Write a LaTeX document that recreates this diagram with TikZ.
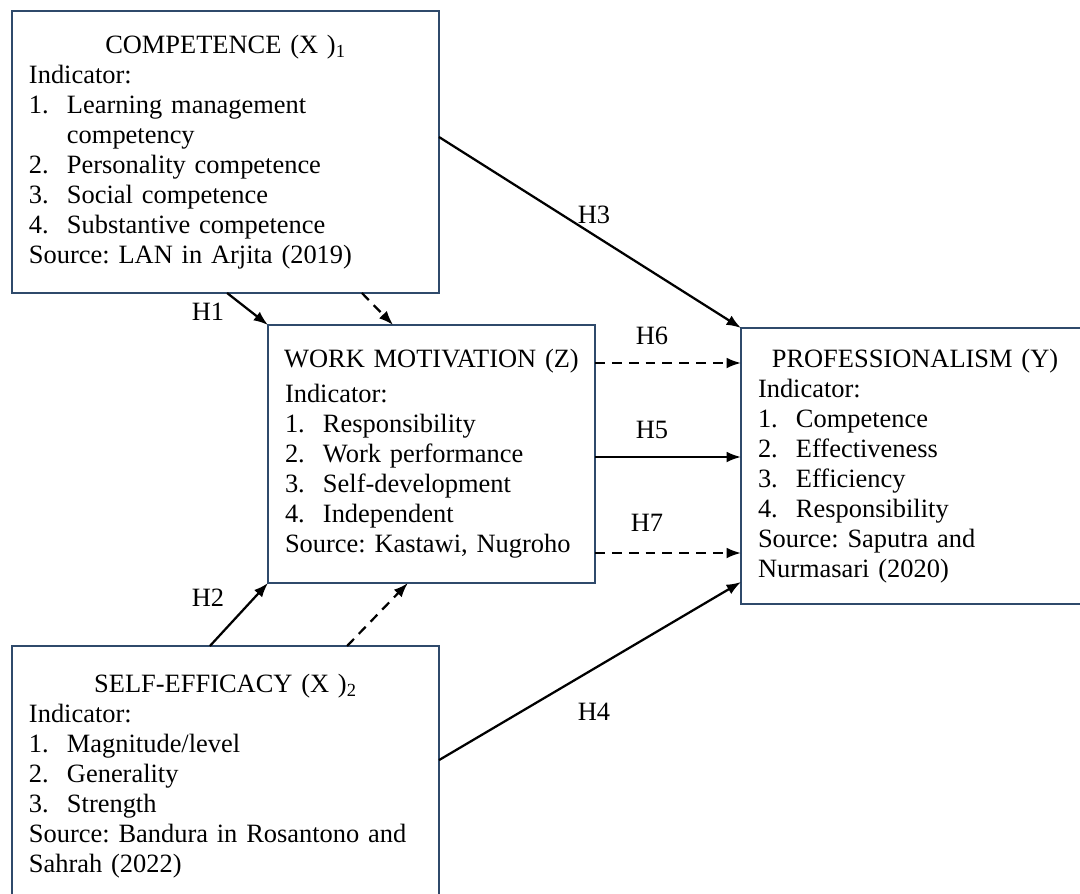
\documentclass[tikz,border=0pt]{standalone}
\usepackage{fontspec}
\setmainfont{LiberationSerif}[Extension=.ttf,UprightFont=*-Regular,BoldFont=*-Bold,ItalicFont=*-Italic]
\usetikzlibrary{positioning}
\usetikzlibrary{arrows.meta}
\definecolor{boxblue}{HTML}{2F4A6B}
\newcommand{\itm}[2]{\makebox[0.95cm][l]{#1}#2}
\newcommand{\boxtitle}[1]{\makebox[\linewidth]{#1}}
\frenchspacing

\begin{document}
\begin{tikzpicture}[x=0.25mm,y=-0.25mm,>={Latex[length=0.36cm,width=0.27cm]},
	font=\fontsize{18.8pt}{0.75cm}\selectfont,
	box/.style={draw=boxblue,line width=1.7pt,inner xsep=0.425cm,inner ysep=0pt,align=left,outer sep=0pt},
	link/.style={->,line width=1.6pt},
	dlink/.style={link,dash pattern=on 7pt off 5pt},
	hyp/.style={inner sep=0pt}]
	\useasboundingbox (0,0) rectangle (1080,894);

	% variables
	\node [box,text width=9.825cm,minimum height=7.05cm] at (225.5,152) (comp) {\boxtitle{COMPETENCE (X )\textsubscript{1}}\\
		Indicator:\\
		\itm{1.}{Learning management}\\
		\hspace*{0.95cm}competency\\
		\itm{2.}{Personality competence}\\
		\itm{3.}{Social competence}\\
		\itm{4.}{Substantive competence}\\
		Source: LAN in Arjita (2019)};
	\node [box,text width=7.325cm,minimum height=6.45cm] at (431.5,454) (motiv) {\boxtitle{WORK MOTIVATION (Z)}\\[0.125cm]
		Indicator:\\
		\itm{1.}{Responsibility}\\
		\itm{2.}{Work performance}\\
		\itm{3.}{Self-development}\\
		\itm{4.}{Independent}\\
		Source: Kastawi, Nugroho};
	\node [box,text width=7.85cm,minimum height=6.9cm] at (915,466) (prof) {\boxtitle{PROFESSIONALISM (Y)}\\
		Indicator:\\
		\itm{1.}{Competence}\\
		\itm{2.}{Effectiveness}\\
		\itm{3.}{Efficiency}\\
		\itm{4.}{Responsibility}\\
		Source: Saputra and\\
		Nurmasari (2020)};
	\node [box,text width=9.825cm,minimum height=6.525cm] at (225.5,776.5) (effic) {\boxtitle{SELF-EFFICACY (X )\textsubscript{2}}\\
		Indicator:\\
		\itm{1.}{Magnitude/level}\\
		\itm{2.}{Generality}\\
		\itm{3.}{Strength}\\
		Source: Bandura in Rosantono and\\
		Sahrah (2022)};

	% paths
	\draw [link] ([yshift=0.375cm]comp.east) -- (prof.north west);
	\draw [link] ([xshift=0.04cm]comp.south) -- (motiv.north west);
	\draw [dlink] ([xshift=3.41cm]comp.south) -- ([xshift=-0.96cm]motiv.north);
	\draw [dlink] ([yshift=2.275cm]motiv.east) -- ([yshift=2.275cm]motiv.east -| prof.west);
	\draw [link] ([yshift=-0.075cm]motiv.east) -- ([yshift=-0.075cm]motiv.east -| prof.west);
	\draw [dlink] ([yshift=-2.475cm]motiv.east) -- ([yshift=-2.475cm]motiv.east -| prof.west);
	\draw [link] ([xshift=-0.39cm]effic.north) -- (motiv.south west);
	\draw [dlink] ([xshift=3.04cm]effic.north) -- ([xshift=-0.59cm]motiv.south);
	\draw [link] ([yshift=0.41cm]effic.east) -- ([yshift=0.55cm]prof.south west);

	% hypotheses
	\node [hyp] at (208,312) (h1) {H1};
	\node [hyp] at (208,598) (h2) {H2};
	\node [hyp] at (594,215) (h3) {H3};
	\node [hyp] at (594,712) (h4) {H4};
	\node [hyp] at (652,430) (h5) {H5};
	\node [hyp] at (652,336) (h6) {H6};
	\node [hyp] at (647,523) (h7) {H7};
\end{tikzpicture}
\end{document}
